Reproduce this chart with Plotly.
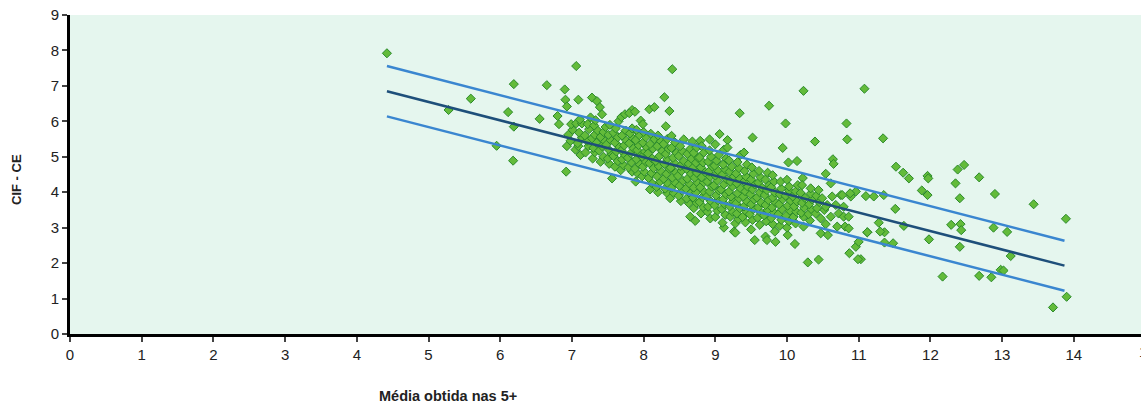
import plotly.graph_objects as go

# Regression line and +/- band end points
fit_x = [4.42, 13.87]
fit_y = [6.85, 1.93]
upper_y = [7.56, 2.63]
lower_y = [6.14, 1.22]

x_ticks = list(range(0, 16))
y_ticks = list(range(0, 10))

# Scattered points outside the dense cloud
pts_outer = [
    (4.42, 7.92), (5.28, 6.32), (5.59, 6.64), (5.95, 5.31), (6.11, 6.26), (6.18, 4.89),
    (6.19, 7.05), (6.19, 5.85), (6.55, 6.07), (6.65, 7.02), (6.80, 6.15), (6.82, 5.92),
    (6.90, 6.90), (6.91, 6.61), (6.93, 6.42), (6.92, 4.58), (7.06, 7.56), (7.09, 6.61),
    (7.28, 6.67), (7.35, 6.57), (7.39, 6.40), (7.42, 6.20), (8.40, 7.47), (8.29, 6.68),
    (8.36, 6.29), (8.08, 6.34), (8.15, 6.40), (7.84, 6.32), (9.34, 6.23), (9.75, 6.44),
    (10.23, 6.86), (11.08, 6.92), (9.98, 5.94), (10.83, 5.94), (9.52, 5.54), (10.39, 5.43),
    (10.84, 5.49), (11.34, 5.52), (9.94, 5.25), (10.02, 4.84), (10.14, 4.88), (10.64, 4.93),
    (10.65, 4.80), (10.54, 4.52), (10.22, 4.40), (11.52, 4.72), (11.62, 4.55), (11.70, 4.39),
    (11.96, 4.46), (11.97, 4.39), (12.38, 4.64), (12.47, 4.77), (12.35, 4.25), (12.68, 4.42),
    (11.88, 4.05), (11.96, 3.92), (12.41, 3.83), (12.90, 3.95), (13.44, 3.66), (11.51, 3.53),
    (13.89, 3.25), (11.28, 3.14), (11.63, 3.05), (12.29, 3.08), (12.42, 3.10), (12.43, 2.93),
    (12.88, 3.00), (13.07, 2.88), (11.12, 2.87), (11.36, 2.87), (11.36, 2.58), (11.48, 2.56),
    (11.98, 2.67), (12.41, 2.46), (11.03, 2.11), (13.12, 2.20), (12.17, 1.62), (12.68, 1.64),
    (12.85, 1.60), (12.98, 1.81), (13.02, 1.79), (13.90, 1.05), (13.71, 0.75),
    (10.96, 2.46), (10.87, 2.28), (10.99, 2.11), (10.29, 2.02), (10.44, 2.10), (10.11, 2.54),
    (10.01, 2.79), (10.96, 4.02), (11.10, 3.89), (11.21, 3.88), (11.35, 3.92), (11.00, 2.60),
    (10.47, 2.84), (10.57, 2.79), (10.81, 3.03), (10.86, 2.98), (11.12, 2.87), (11.30, 2.89),
]

# Dense cloud, left part (x about 6.9 - 8.0)
pts_left = [
    (6.93, 5.30), (6.98, 5.45), (6.95, 5.62), (7.01, 5.76), (6.99, 5.92), (7.05, 5.20),
    (7.09, 5.30), (7.06, 5.94), (7.12, 5.05), (7.08, 5.38), (7.14, 5.55), (7.10, 5.68),
    (7.14, 5.94), (7.11, 6.05), (7.19, 5.12), (7.23, 5.30), (7.21, 5.45), (7.18, 5.60),
    (7.24, 5.78), (7.22, 5.92), (7.26, 6.11), (7.29, 4.95), (7.32, 5.13), (7.30, 5.25),
    (7.34, 5.40), (7.28, 5.52), (7.32, 5.62), (7.36, 5.74), (7.31, 5.88), (7.33, 6.03),
    (7.40, 4.86), (7.44, 5.00), (7.38, 5.17), (7.42, 5.30), (7.46, 5.44), (7.40, 5.56),
    (7.44, 5.70), (7.47, 5.84), (7.52, 4.80), (7.50, 4.95), (7.55, 5.08), (7.51, 5.21),
    (7.48, 5.34), (7.54, 5.47), (7.51, 5.62), (7.58, 5.68), (7.53, 5.90), (7.56, 4.39),
    (7.60, 4.72), (7.64, 4.88), (7.58, 5.02), (7.62, 5.15), (7.66, 5.28), (7.60, 5.40),
    (7.64, 5.55), (7.61, 5.80), (7.65, 6.00), (7.68, 4.62), (7.72, 4.76), (7.70, 4.92),
    (7.74, 5.05), (7.69, 5.18), (7.73, 5.32), (7.76, 5.46), (7.70, 5.60), (7.75, 5.74),
    (7.69, 6.12), (7.74, 6.20), (7.80, 6.23), (7.84, 4.58), (7.79, 4.70), (7.83, 4.84),
    (7.78, 4.97), (7.82, 5.10), (7.86, 5.24), (7.80, 5.38), (7.85, 5.52), (7.81, 5.66),
    (7.84, 5.80), (7.89, 4.30), (7.92, 4.52), (7.88, 4.66), (7.94, 4.80), (7.90, 4.93),
    (7.95, 5.06), (7.91, 5.19), (7.93, 5.33), (7.89, 5.47), (7.94, 5.61), (7.90, 5.76),
    (7.88, 6.27), (7.96, 6.02), (7.98, 4.45), (8.01, 4.58), (7.99, 4.72), (8.03, 4.86),
    (7.98, 5.00), (8.02, 5.14), (8.04, 5.27), (7.99, 5.40), (8.03, 5.55), (8.00, 5.70),
    (7.99, 5.92),
]

# Dense cloud, middle part (x about 8.05 - 9.0)
pts_mid = [
    (8.09, 4.08), (8.12, 4.25), (8.07, 4.40), (8.11, 4.54), (8.14, 4.68), (8.08, 4.82),
    (8.12, 4.95), (8.06, 5.09), (8.13, 5.23), (8.09, 5.36), (8.15, 5.50), (8.10, 5.65),
    (8.20, 4.00), (8.18, 4.15), (8.23, 4.30), (8.19, 4.45), (8.24, 4.60), (8.21, 4.74),
    (8.17, 4.88), (8.22, 5.02), (8.26, 5.16), (8.19, 5.30), (8.24, 5.44), (8.20, 5.60),
    (8.33, 3.97), (8.30, 4.10), (8.34, 4.24), (8.28, 4.38), (8.32, 4.52), (8.36, 4.66),
    (8.29, 4.80), (8.33, 4.94), (8.31, 5.08), (8.35, 5.22), (8.28, 5.36), (8.33, 5.50),
    (8.31, 5.86), (8.37, 3.83), (8.42, 3.98), (8.39, 4.13), (8.44, 4.27), (8.40, 4.41),
    (8.45, 4.55), (8.38, 4.69), (8.43, 4.83), (8.41, 4.97), (8.46, 5.11), (8.39, 5.25),
    (8.44, 5.40), (8.39, 5.59), (8.52, 3.75), (8.49, 3.90), (8.54, 4.04), (8.50, 4.18),
    (8.55, 4.32), (8.48, 4.46), (8.53, 4.60), (8.51, 4.74), (8.56, 4.88), (8.49, 5.02),
    (8.54, 5.16), (8.51, 5.30), (8.56, 5.49), (8.63, 3.69), (8.60, 3.82), (8.65, 3.96),
    (8.59, 4.10), (8.64, 4.24), (8.61, 4.38), (8.66, 4.52), (8.60, 4.66), (8.63, 4.80),
    (8.67, 4.94), (8.61, 5.08), (8.65, 5.22), (8.68, 5.43), (8.65, 3.31), (8.72, 3.19),
    (8.70, 3.55), (8.74, 3.70), (8.69, 3.85), (8.73, 3.99), (8.70, 4.13), (8.75, 4.27),
    (8.71, 4.41), (8.74, 4.55), (8.69, 4.69), (8.73, 4.83), (8.76, 4.97), (8.70, 5.11),
    (8.74, 5.26), (8.79, 5.45), (8.80, 3.40), (8.83, 3.58), (8.78, 3.72), (8.82, 3.86),
    (8.85, 4.00), (8.79, 4.14), (8.84, 4.28), (8.81, 4.42), (8.86, 4.56), (8.80, 4.70),
    (8.83, 4.84), (8.78, 4.98), (8.84, 5.12), (8.81, 5.30), (8.89, 3.45), (8.93, 3.26),
    (8.90, 3.59), (8.94, 3.74), (8.88, 3.88), (8.92, 4.02), (8.95, 4.16), (8.89, 4.30),
    (8.93, 4.44), (8.91, 4.58), (8.96, 4.72), (8.90, 4.86), (8.94, 5.00), (8.92, 5.18),
    (8.92, 5.49), (9.00, 3.30), (9.03, 3.48), (8.99, 3.63), (9.04, 3.77), (9.01, 3.91),
    (9.05, 4.05), (8.98, 4.19), (9.03, 4.33), (9.00, 4.47), (9.04, 4.61), (8.99, 4.75),
    (9.02, 4.89), (9.05, 5.05), (9.00, 5.35), (9.06, 5.64),
]

# Dense cloud, right part (x about 9.1 - 10.9)
pts_right = [
    (9.12, 3.00), (9.10, 3.14), (9.14, 3.36), (9.09, 3.52), (9.13, 3.66), (9.11, 3.80),
    (9.15, 3.94), (9.08, 4.08), (9.12, 4.22), (9.16, 4.36), (9.10, 4.50), (9.14, 4.64),
    (9.11, 4.78), (9.15, 4.95), (9.12, 5.20), (9.17, 5.47), (9.26, 2.89), (9.21, 3.31),
    (9.24, 3.45), (9.20, 3.60), (9.25, 3.74), (9.22, 3.88), (9.19, 4.02), (9.24, 4.16),
    (9.21, 4.30), (9.26, 4.44), (9.20, 4.58), (9.23, 4.72), (9.19, 4.90), (9.17, 5.26),
    (9.28, 2.86), (9.28, 3.12), (9.32, 3.24), (9.30, 3.40), (9.34, 3.55), (9.29, 3.69),
    (9.33, 3.83), (9.31, 3.97), (9.35, 4.11), (9.30, 4.25), (9.34, 4.39), (9.29, 4.53),
    (9.33, 4.68), (9.31, 4.85), (9.35, 5.05), (9.42, 3.15), (9.38, 3.30), (9.43, 3.46),
    (9.40, 3.60), (9.44, 3.74), (9.39, 3.88), (9.42, 4.02), (9.45, 4.16), (9.40, 4.30),
    (9.43, 4.44), (9.41, 4.60), (9.44, 4.78), (9.40, 5.12), (9.55, 2.65), (9.50, 2.95),
    (9.52, 3.22), (9.48, 3.38), (9.53, 3.52), (9.50, 3.66), (9.54, 3.80), (9.49, 3.94),
    (9.52, 4.08), (9.55, 4.22), (9.50, 4.36), (9.53, 4.52), (9.51, 4.70), (9.62, 3.08),
    (9.59, 3.28), (9.63, 3.43), (9.60, 3.57), (9.64, 3.71), (9.58, 3.85), (9.62, 3.99),
    (9.65, 4.13), (9.60, 4.27), (9.63, 4.42), (9.61, 4.60), (9.70, 2.75), (9.72, 2.65),
    (9.71, 3.18), (9.68, 3.35), (9.73, 3.50), (9.70, 3.64), (9.74, 3.78), (9.69, 3.92),
    (9.72, 4.06), (9.75, 4.20), (9.70, 4.36), (9.73, 4.55), (9.83, 2.89), (9.84, 2.60),
    (9.80, 3.10), (9.78, 3.27), (9.82, 3.42), (9.79, 3.57), (9.84, 3.71), (9.80, 3.85),
    (9.83, 3.99), (9.78, 4.14), (9.82, 4.30), (9.80, 4.48), (9.90, 3.05), (9.92, 3.22),
    (9.88, 3.38), (9.93, 3.52), (9.89, 3.66), (9.94, 3.80), (9.90, 3.94), (9.92, 4.10),
    (9.91, 4.30), (10.00, 3.00), (10.03, 3.18), (9.99, 3.34), (10.04, 3.48), (10.01, 3.62),
    (10.05, 3.76), (9.98, 3.90), (10.03, 4.05), (10.03, 4.16), (10.00, 4.35),
    (10.12, 3.12), (10.09, 3.30), (10.13, 3.45), (10.10, 3.60), (10.14, 3.74), (10.08, 3.88),
    (10.12, 4.02), (10.15, 4.20), (10.23, 3.03), (10.23, 3.31), (10.20, 3.42), (10.24, 3.56),
    (10.21, 3.70), (10.25, 3.84), (10.19, 3.98), (10.21, 4.20), (10.32, 3.20), (10.30, 3.38),
    (10.34, 3.52), (10.31, 3.66), (10.35, 3.80), (10.33, 3.96), (10.33, 4.11), (10.40, 3.40),
    (10.47, 3.26), (10.42, 3.55), (10.45, 3.72), (10.41, 3.90), (10.44, 4.06), (10.49, 3.83),
    (10.54, 3.10), (10.52, 3.50), (10.56, 3.64), (10.54, 3.59), (10.61, 3.31), (10.63, 3.88),
    (10.61, 4.25), (10.68, 3.64), (10.70, 3.03), (10.72, 3.40), (10.75, 3.92), (10.79, 3.31),
    (10.79, 3.59), (10.77, 3.92), (10.89, 3.88), (10.86, 3.31), (10.88, 3.97),
]

all_pts = pts_outer + pts_left + pts_mid + pts_right
px = [p[0] for p in all_pts]
py = [p[1] for p in all_pts]

W, H = 1141, 405
L, R, T, B = 70, 0, 15, 71
pw, ph = W - L - R, H - T - B
unit_x = 71.7  # pixels per x unit in the reference
x_max = pw / unit_x

fig = go.Figure()
fig.add_trace(go.Scatter(
    x=px, y=py, mode="markers",
    marker=dict(symbol="diamond", size=7, color="#63BB3A",
                line=dict(color="#2A8A2A", width=1)),
    showlegend=False, hoverinfo="skip"))
fig.add_trace(go.Scatter(x=fit_x, y=upper_y, mode="lines",
                         line=dict(color="#3A86D0", width=2.5), showlegend=False))
fig.add_trace(go.Scatter(x=fit_x, y=lower_y, mode="lines",
                         line=dict(color="#3A86D0", width=2.5), showlegend=False))
fig.add_trace(go.Scatter(x=fit_x, y=fit_y, mode="lines",
                         line=dict(color="#1E4F7A", width=2.5), showlegend=False))

tick_font = dict(family="Liberation Sans Narrow, Liberation Sans, Arial", size=15, color="#222")
ytitle_font = dict(family="Liberation Sans, Arial", size=13, color="#222")
xtitle_font = dict(family="Liberation Sans, Arial", size=14.5, color="#222")


def to_paper(xpx, ypx):
    return (xpx - L) / pw, (H - B - ypx) / ph


a0 = to_paper(17, 180)
a1 = to_paper(448, 396)
a2 = to_paper(1147, 351)

fig.update_layout(
    width=W, height=H,
    margin=dict(l=L, r=R, t=T, b=B, pad=0),
    paper_bgcolor="white", plot_bgcolor="#E5F6EE",
    xaxis=dict(range=[0, x_max], tickvals=x_ticks[:-1], showgrid=False, zeroline=False,
               showline=True, linecolor="black", linewidth=3, ticks="outside",
               ticklen=5, tickwidth=1.5, tickcolor="#444", tickfont=tick_font),
    yaxis=dict(range=[0, 9], tickvals=y_ticks, showgrid=False, zeroline=False,
               showline=True, linecolor="black", linewidth=3, ticks="outside",
               ticklen=5, tickwidth=1.5, tickcolor="#444", tickfont=tick_font),
    annotations=[
        dict(text="<b>CIF - CE</b>", x=a0[0], y=a0[1], xref="paper", yref="paper",
             xanchor="center", yanchor="middle", showarrow=False, textangle=-90,
             font=ytitle_font),
        dict(text="<b>Média obtida nas 5+</b>", x=a1[0], y=a1[1], xref="paper", yref="paper",
             xanchor="center", yanchor="middle", showarrow=False, font=xtitle_font),
        dict(text=str(x_ticks[-1]), x=a2[0], y=a2[1], xref="paper", yref="paper",
             xanchor="center", yanchor="middle", showarrow=False, font=tick_font),
    ],
)

fig.write_html("out.html", config={"displayModeBar": False},
               post_script="document.body.style.margin='0';document.body.style.overflow='hidden';")
